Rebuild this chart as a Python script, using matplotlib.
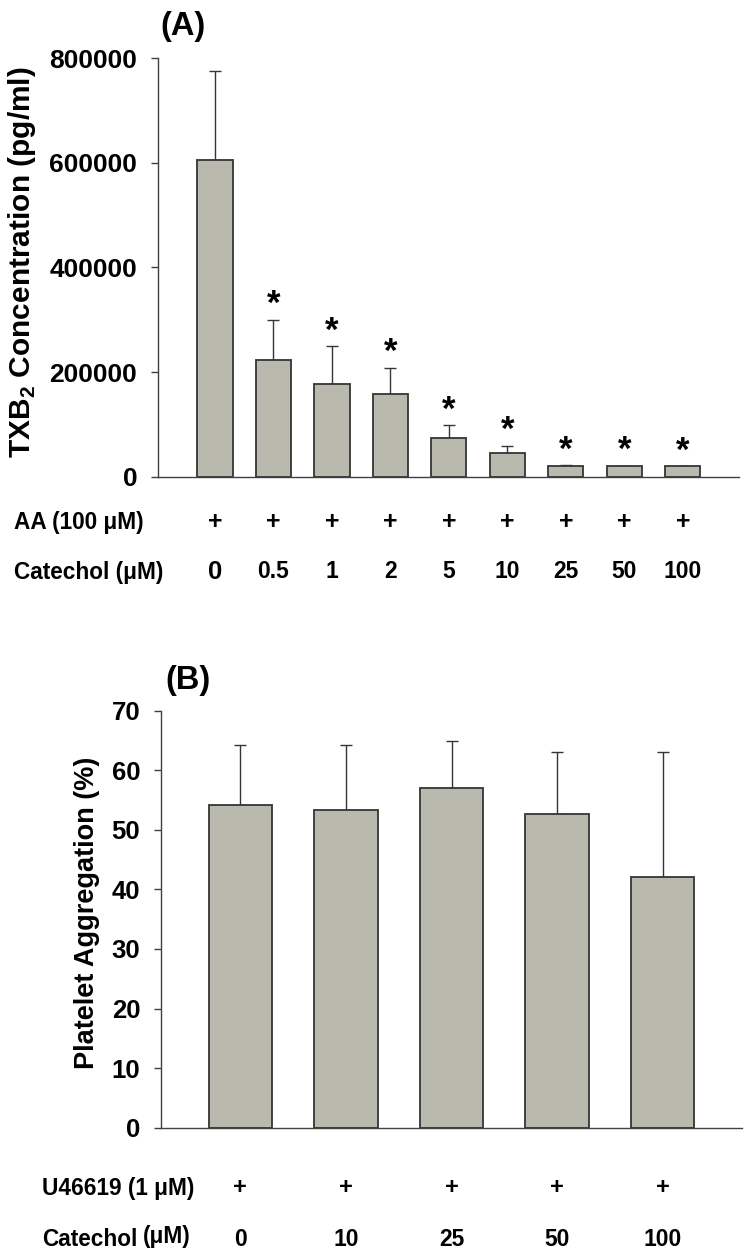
import matplotlib
matplotlib.use('Agg')
import matplotlib.pyplot as plt
import matplotlib.transforms as mtransforms
import numpy as np

plt.rcParams['font.family'] = ['Liberation Sans', 'DejaVu Sans']
plt.rcParams['font.weight'] = 'bold'
plt.rcParams['mathtext.fontset'] = 'custom'
plt.rcParams['mathtext.rm'] = 'Liberation Sans:bold'
plt.rcParams['mathtext.bf'] = 'Liberation Sans:bold'

# panel A: TXB2 concentration
a_catechol = ['0', '0.5', '1', '2', '5', '10', '25', '50', '100']
a_mean = [605000, 224000, 177000, 159000, 75000, 45000, 21000, 20500, 21000]
a_err = [171000, 76000, 73000, 50000, 24000, 15000, 1500, 1300, 0]
a_signif = [False, True, True, True, True, True, True, True, True]
a_yticks = [0, 200000, 400000, 600000, 800000]

# panel B: platelet aggregation
b_catechol = ['0', '10', '25', '50', '100']
b_mean = [54.1, 53.4, 57.1, 52.6, 42.1]
b_err = [10.2, 10.9, 7.8, 10.5, 21.0]
b_yticks = [0, 10, 20, 30, 40, 50, 60, 70]

bar_fc = '#b9b9ad'
edge = '#353535'

fig = plt.figure(figsize=(7.5, 12.55), dpi=100)


def bar_panel(ax, means, errs, yticks, tick_fs):
    x = np.arange(len(means))
    ax.bar(x, means, width=0.6, color=bar_fc, edgecolor=edge, linewidth=1.3, zorder=2)
    ax.errorbar(x, means, yerr=[np.zeros(len(errs)), errs], fmt='none',
                ecolor=edge, elinewidth=1.0, capsize=4.5, capthick=1.0, zorder=1)
    ax.spines['top'].set_visible(False)
    ax.spines['right'].set_visible(False)
    for s in ('left', 'bottom'):
        ax.spines[s].set_color('#404040')
        ax.spines[s].set_linewidth(1.0)
    ax.set_xticks([])
    ax.set_yticks(yticks)
    ax.set_yticklabels([str(t) for t in yticks], fontsize=tick_fs, fontweight='bold')
    ax.tick_params(axis='y', direction='out', length=5, width=1.0, color='#404040', pad=10)
    return x


# ---- (A)
axA = fig.add_axes([158 / 750, 1 - 477 / 1255, 581 / 750, 419 / 1255])
xA = bar_panel(axA, a_mean, a_err, a_yticks, 19)
axA.set_ylim(0, 800000)
axA.set_xlim(-0.975, 8.96)
for i, sig in enumerate(a_signif):
    if sig:
        axA.annotate('*', xy=(i, a_mean[i] + a_err[i]), xytext=(0, 4),
                     textcoords='offset points', ha='center', va='baseline',
                     fontsize=25, fontweight='bold')

trA = mtransforms.blended_transform_factory(axA.transData, axA.transAxes)
rowA1 = (477 - 522) / 419
rowA2 = (477 - 572) / 419
for i, lab in enumerate(a_catechol):
    axA.text(i, rowA1, '+', transform=trA, ha='center', va='center', fontsize=18, fontweight='bold')
    axA.text(i, rowA2, lab, transform=trA, ha='center', va='center',
             fontsize=18.5 if lab == '0' else 16.5, fontweight='bold')
fig.text(14 / 750, 1 - 522 / 1255, 'AA (100 μM)', ha='left', va='center', fontsize=16.3, fontweight='bold')
fig.text(14 / 750, 1 - 572 / 1255, 'Catechol (μM)', ha='left', va='center', fontsize=16.3, fontweight='bold')
fig.text(22 / 750, 1 - 262 / 1255, r'TXB$_{\mathbf{2}}$ Concentration (pg/ml)', rotation=90,
         ha='center', va='center', fontsize=21.5, fontweight='bold')
fig.text(160 / 750, 1 - 27 / 1255, '(A)', ha='left', va='center', fontsize=23.5, fontweight='bold')

# ---- (B)
axB = fig.add_axes([161 / 750, 1 - 1127.7 / 1255, 581 / 750, 417 / 1255])
xB = bar_panel(axB, b_mean, b_err, b_yticks, 18.5)
axB.set_ylim(0, 70)
axB.set_xlim(-0.75, 4.75)

trB = mtransforms.blended_transform_factory(axB.transData, axB.transAxes)
rowB1 = (1127.7 - 1188) / 417
rowB2 = (1127.7 - 1240) / 417
for i, lab in enumerate(b_catechol):
    axB.text(i, rowB1, '+', transform=trB, ha='center', va='center', fontsize=17, fontweight='bold')
    axB.text(i, rowB2, lab, transform=trB, ha='center', va='center', fontsize=16.5, fontweight='bold')
fig.text(42 / 750, 1 - 1188 / 1255, 'U46619 (1 μM)', ha='left', va='center', fontsize=16.3, fontweight='bold')
fig.text(42 / 750, 1 - 1240 / 1255, 'Catechol', ha='left', va='center', fontsize=16.3, fontweight='bold')
fig.text(143 / 750, 1 - 1236 / 1255, '(μM)', ha='left', va='center', fontsize=16.3, fontweight='bold')
fig.text(87 / 750, 1 - 913 / 1255, 'Platelet Aggregation (%)', rotation=90,
         ha='center', va='center', fontsize=19.5, fontweight='bold')
fig.text(165 / 750, 1 - 680 / 1255, '(B)', ha='left', va='center', fontsize=23.5, fontweight='bold')

fig.savefig('out.png', dpi=100, facecolor='white')
